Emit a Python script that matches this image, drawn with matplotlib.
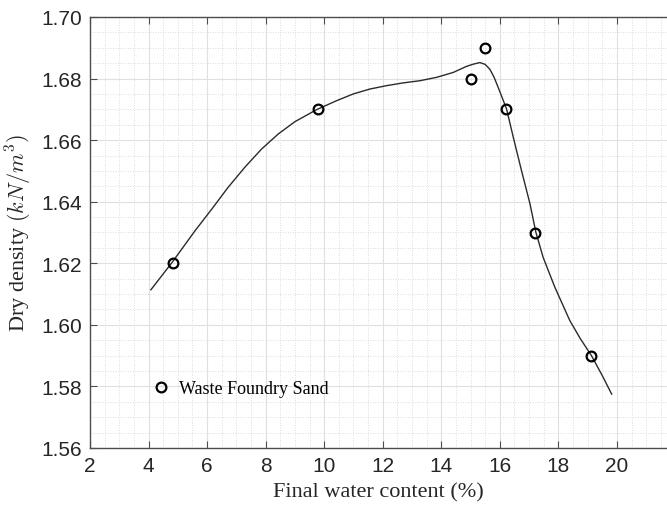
import matplotlib
matplotlib.use("Agg")
import matplotlib.pyplot as plt
from matplotlib.ticker import MultipleLocator

# Measured data points
water = [4.83, 9.8, 15.0, 15.5, 16.2, 17.2, 19.1]
density = [1.62, 1.67, 1.68, 1.69, 1.67, 1.63, 1.59]

# Fitted curve
fit_x = [4.08, 4.79, 5.59, 6.16, 6.72, 7.29, 7.86, 8.43, 9.00, 9.74, 10.42,
         10.99, 11.56, 12.13, 12.70, 13.27, 13.84, 14.41, 14.87, 15.10, 15.32,
         15.50, 15.66, 15.80, 15.94, 16.08, 16.23, 16.46, 16.74, 17.03, 17.23,
         17.48, 17.88, 18.39, 18.75, 19.13, 19.50, 19.82]
fit_y = [1.6114, 1.6201, 1.6306, 1.6376, 1.6447, 1.6512, 1.6571, 1.6620,
         1.6660, 1.6699, 1.6728, 1.6750, 1.6766, 1.6777, 1.6786, 1.6793,
         1.6804, 1.6820, 1.6840, 1.6847, 1.6852, 1.6846, 1.6830, 1.6805,
         1.6772, 1.6738, 1.6701, 1.6609, 1.6501, 1.6393, 1.6301, 1.6219,
         1.6122, 1.6014, 1.5955, 1.5900, 1.5835, 1.5775]

xticks = [2, 4, 6, 8, 10, 12, 14, 16, 18, 20]
yticks = [1.56, 1.58, 1.60, 1.62, 1.64, 1.66, 1.68, 1.70]
ytick_labels = ["1.56", "1.58", "1.60", "1.62", "1.64", "1.66", "1.68", "1.70"]

plt.rcParams['mathtext.fontset'] = 'cm'

fig = plt.figure(figsize=(6.67, 5.10), dpi=100)
ax = fig.add_axes([90/667, 1-449/510, 1-90/667, (449-18)/510])

ax.plot(fit_x, fit_y, color='#2b2b2b', lw=1.0, zorder=3,
        solid_joinstyle='round')
ax.plot(water, density, linestyle='none', marker='o', markersize=7,
        markerfacecolor='none', markeredgecolor='black', markeredgewidth=1.6,
        zorder=4, label='Waste Foundry Sand')

ax.set_xlim(2, 21.71)
ax.set_ylim(1.56, 1.70)
ax.set_xticks(xticks)
ax.set_yticks(yticks)
ax.set_yticklabels(ytick_labels)
ax.xaxis.set_minor_locator(MultipleLocator(0.5))
ax.yaxis.set_minor_locator(MultipleLocator(0.005))

ax.grid(which='major', color='#e0e0e0', lw=0.8, linestyle='-')
ax.grid(which='minor', color='#d0d0d0', lw=0.6, linestyle=(0, (1, 2)))
ax.set_axisbelow(True)

for s in ['left', 'bottom', 'top']:
    ax.spines[s].set_color('#4d4d4d')
    ax.spines[s].set_linewidth(1.0)
ax.spines['right'].set_visible(False)

ax.tick_params(which='major', direction='in', length=5, width=0.8,
               colors='#4d4d4d', top=True, right=False, labelsize=15,
               labelcolor='#262626', pad=6)
ax.tick_params(which='minor', length=0)
for lab in ax.get_xticklabels() + ax.get_yticklabels():
    lab.set_fontfamily('Liberation Sans')

ax.set_xlabel('Final water content (%)', fontfamily='Liberation Serif',
              fontsize=16, color='#262626', labelpad=5)
ax.set_ylabel(r'Dry density $(kN/m^3)$', fontfamily='Liberation Serif',
              fontsize=16, color='#262626', labelpad=5)

leg = ax.legend(loc='center left', bbox_to_anchor=(0.1075, 0.137),
                frameon=False, borderaxespad=0, borderpad=0,
                handlelength=1.0, handletextpad=0.5,
                prop={'family': 'Liberation Serif', 'size': 13})

fig.savefig('out.png', dpi=100)
